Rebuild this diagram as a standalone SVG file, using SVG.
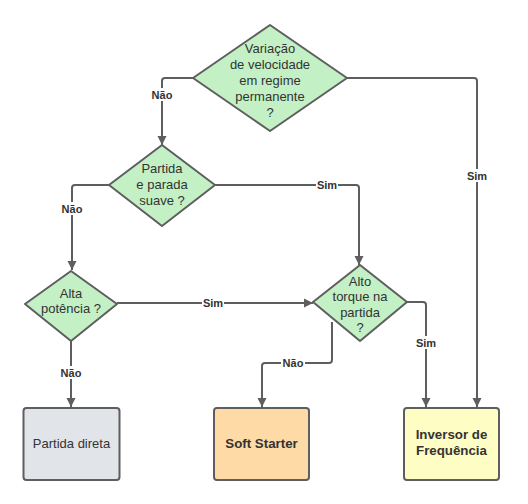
<svg xmlns="http://www.w3.org/2000/svg" width="528" height="504" viewBox="0 0 528 504">
<defs>
<marker id="arr" markerUnits="userSpaceOnUse" markerWidth="10" markerHeight="10" refX="9" refY="5" orient="auto">
<path d="M0,0.5 L9,5 L0,9.5 z" fill="#5e5e5e"/>
</marker>
<style>
.dia{fill:#c3f0c4;stroke:#5e5e5e;stroke-width:2;stroke-linejoin:round}
.box{stroke:#5e5e5e;stroke-width:2}
.t{font-family:"Liberation Sans",Arial,sans-serif;font-size:13px;fill:#333;text-anchor:middle;dominant-baseline:central}
.b{font-family:"Liberation Sans",Arial,sans-serif;font-size:13.3px;font-weight:bold;fill:#333;text-anchor:middle;dominant-baseline:central}
.c{fill:none;stroke:#5e5e5e;stroke-width:2;marker-end:url(#arr)}
.lb{font-family:"Liberation Sans",Arial,sans-serif;font-size:11px;font-weight:bold;fill:#333;text-anchor:middle;dominant-baseline:central}
.bg{fill:#fff}
</style>
</defs>
<rect width="528" height="504" fill="#fff"/>
<g id="connectors">
<path class="c" d="M193,78 H165 Q162,78 162,81 V145"/>
<path class="c" d="M347,78 H474 Q477,78 477,81 V407"/>
<path class="c" d="M109,185 H75 Q72,185 72,188 V270"/>
<path class="c" d="M215,185 H356 Q359,185 359,188 V265"/>
<path class="c" d="M117,303 H313"/>
<path class="c" d="M71,341 V407"/>
<path class="c" d="M407,302 H423 Q426,302 426,305 V407"/>
<path class="c" d="M332,322 V360 Q332,363 329,363 H265 Q262,363 262,366 V407"/>
<rect class="bg" x="150" y="88" width="24" height="13"/>
<text class="lb" x="162" y="94.5">Não</text>
<rect class="bg" x="466" y="169" width="22" height="13"/>
<text class="lb" x="477" y="175.5">Sim</text>
<rect class="bg" x="60" y="202" width="24" height="13"/>
<text class="lb" x="72" y="208.5">Não</text>
<rect class="bg" x="316" y="178" width="22" height="13"/>
<text class="lb" x="327" y="184.5">Sim</text>
<rect class="bg" x="202" y="296" width="22" height="13"/>
<text class="lb" x="213" y="302.5">Sim</text>
<rect class="bg" x="59" y="366" width="24" height="13"/>
<text class="lb" x="71" y="372.5">Não</text>
<rect class="bg" x="415" y="336" width="22" height="13"/>
<text class="lb" x="426" y="342.5">Sim</text>
<rect class="bg" x="281" y="356" width="24" height="13"/>
<text class="lb" x="293" y="362.5">Não</text>
</g>
<g id="n1">
<path class="dia" d="M270,25 L347,78 L270,131 L193,78 z"/>
<text class="t" x="270" y="48">Variação</text>
<text class="t" x="270" y="64">de velocidade</text>
<text class="t" x="270" y="80">em regime</text>
<text class="t" x="270" y="96">permanente</text>
<text class="t" x="270" y="112">?</text>
</g>
<g id="n2">
<path class="dia" d="M162,145 L215,185 L162,226 L109,185 z"/>
<text class="t" x="162" y="168">Partida</text>
<text class="t" x="162" y="184">e parada</text>
<text class="t" x="162" y="200">suave ?</text>
</g>
<g id="n3">
<path class="dia" d="M71,271 L117,304 L71,341 L25,304 z"/>
<text class="t" x="71" y="293">Alta</text>
<text class="t" x="71" y="308">potência ?</text>
</g>
<g id="n4">
<path class="dia" d="M360,265 L407,302 L360,341 L313,302 z"/>
<text class="t" x="360" y="281">Alto</text>
<text class="t" x="360" y="296">torque na</text>
<text class="t" x="360" y="312">partida</text>
<text class="t" x="360" y="327">?</text>
</g>
<g id="n5">
<rect class="box" x="23.5" y="408" width="96" height="72" rx="3" fill="#e1e4e9"/>
<text class="t" x="71.5" y="443">Partida direta</text>
</g>
<g id="n6">
<rect class="box" x="214" y="408" width="95" height="72" rx="3" fill="#fddaa6"/>
<text class="b" x="261.5" y="443">Soft Starter</text>
</g>
<g id="n7">
<rect class="box" x="404" y="408" width="95" height="72" rx="3" fill="#fefec4"/>
<text class="b" x="451.5" y="434">Inversor de</text>
<text class="b" x="451.5" y="450">Frequência</text>
</g>
</svg>
